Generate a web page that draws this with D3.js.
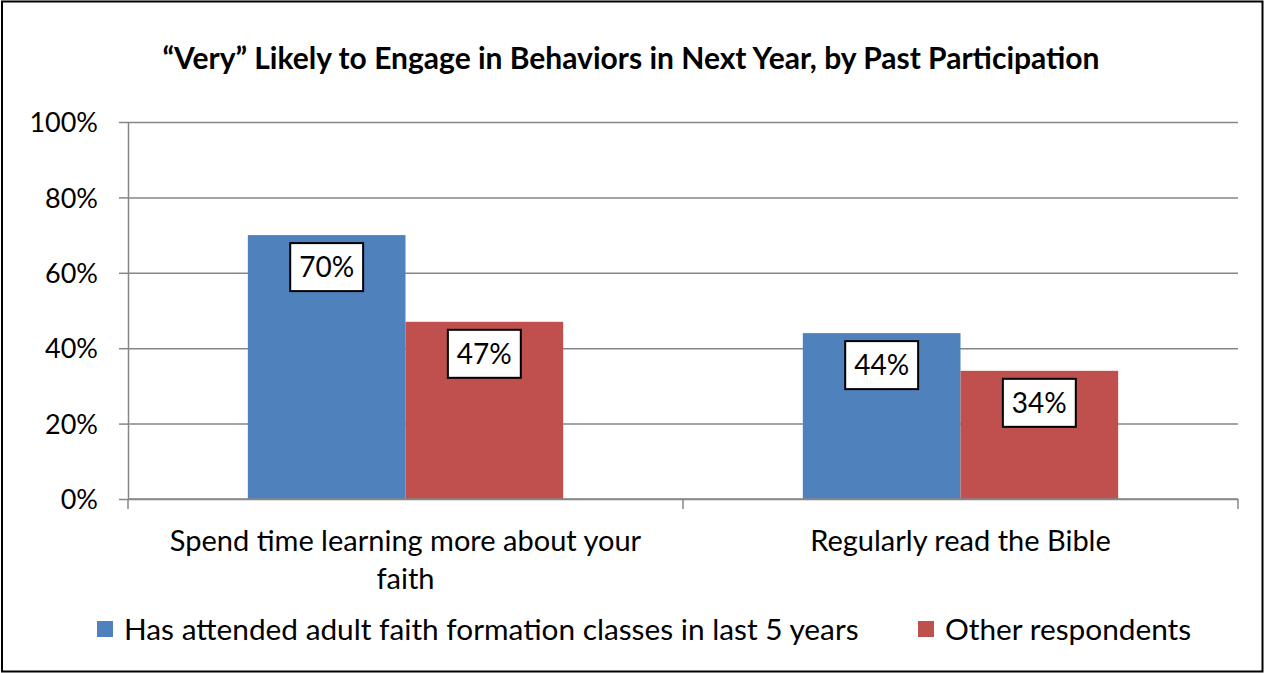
<!DOCTYPE html>
<html>
<head>
<meta charset="utf-8">
<script src="https://cdn.jsdelivr.net/npm/d3@7"></script>
<style>
  html, body { margin: 0; padding: 0; background: #fff; }
  svg { display: block; font-family: Lato, "Open Sans", sans-serif; }
</style>
</head>
<body>
<svg id="chart" width="1264" height="673"></svg>
<script>
// chart values
var categories = ["Spend time learning more about your faith", "Regularly read the Bible"];
var seriesNames = ["Has attended adult faith formation classes in last 5 years", "Other respondents"];
var attendedValues = [70, 44];
var otherValues = [47, 34];
var yTicks = [0, 20, 40, 60, 80, 100];
var colors = ["#4F81BD", "#C0504D"];

var svg = d3.select("#chart");
var W = 1264, H = 673;

// outer frame
svg.append("rect")
  .attr("x", 2).attr("y", 1.5)
  .attr("width", W - 3.5).attr("height", H - 3)
  .attr("fill", "#fff")
  .attr("stroke", "#000")
  .attr("stroke-width", 2);

// title
svg.append("text")
  .attr("x", 631)
  .attr("y", 69)
  .attr("text-anchor", "middle")
  .attr("font-size", 30)
  .attr("font-weight", "bold")
  .text("\u201CVery\u201D Likely to Engage in Behaviors in Next Year, by Past Participation");

var margin = { left: 128, right: 1238, top: 122, bottom: 499 };

var x = d3.scaleBand()
  .domain(categories)
  .range([margin.left, margin.right])
  .paddingInner(0)
  .paddingOuter(0);

var xInner = d3.scaleBand()
  .domain([0, 1])
  .range([0, x.bandwidth()])
  .paddingOuter(0.76)
  .paddingInner(0);

var y = d3.scaleLinear()
  .domain([0, 100])
  .range([margin.bottom, margin.top]);

// gridlines
svg.append("g")
  .attr("transform", "translate(" + margin.left + ",0)")
  .call(d3.axisLeft(y).tickValues(yTicks).tickSize(-(margin.right - margin.left)).tickFormat(""))
  .call(function(g) {
    g.select(".domain").remove();
    g.selectAll("line").attr("stroke", "#868686").attr("stroke-width", 1.5);
  });

// y axis
svg.append("g")
  .attr("transform", "translate(" + margin.left + ",0)")
  .call(d3.axisLeft(y).tickValues(yTicks).tickSize(9).tickSizeOuter(0).tickPadding(21)
    .tickFormat(function(d) { return d + "%"; }))
  .call(function(g) {
    g.select(".domain").attr("stroke", "#868686").attr("stroke-width", 1.5);
    g.selectAll("line").attr("stroke", "#868686").attr("stroke-width", 1.5);
    g.selectAll("text").attr("font-size", 27).attr("fill", "#000")
      .attr("font-family", "Lato, sans-serif").attr("dy", "0.36em");
  });

// bars
var data = categories.map(function(c, i) {
  return { cat: c, vals: [attendedValues[i], otherValues[i]] };
});

var groups = svg.append("g").selectAll("g")
  .data(data)
  .enter().append("g")
  .attr("transform", function(d) { return "translate(" + x(d.cat) + ",0)"; });

groups.selectAll("rect")
  .data(function(d) { return d.vals; })
  .enter().append("rect")
  .attr("x", function(d, i) { return xInner(i); })
  .attr("y", function(d) { return y(d); })
  .attr("width", xInner.bandwidth())
  .attr("height", function(d) { return y(0) - y(d); })
  .attr("fill", function(d, i) { return colors[i]; });

// x axis line and boundary ticks
var xAxis = svg.append("g");
xAxis.append("line")
  .attr("x1", margin.left).attr("x2", margin.right)
  .attr("y1", y(0)).attr("y2", y(0))
  .attr("stroke", "#868686").attr("stroke-width", 1.5);
var bounds = categories.map(function(c) { return x(c); }).concat([x.range()[1]]);
xAxis.selectAll(".tk")
  .data(bounds)
  .enter().append("line")
  .attr("x1", function(d) { return d; }).attr("x2", function(d) { return d; })
  .attr("y1", y(0)).attr("y2", y(0) + 10)
  .attr("stroke", "#868686").attr("stroke-width", 1.5);

// category labels (wrapped)
function wrapLines(text, maxW, size) {
  var probe = svg.append("text").attr("font-size", size);
  var words = text.split(" "), lines = [], line = [];
  words.forEach(function(w) {
    line.push(w);
    probe.text(line.join(" "));
    if (probe.node().getComputedTextLength() > maxW && line.length > 1) {
      line.pop();
      lines.push(line.join(" "));
      line = [w];
    }
  });
  lines.push(line.join(" "));
  probe.remove();
  return lines;
}

categories.forEach(function(c) {
  var lines = wrapLines(c, 510, 29);
  var t = svg.append("text")
    .attr("text-anchor", "middle")
    .attr("font-size", 29)
    .attr("x", x(c) + x.bandwidth() / 2)
    .attr("y", 551);
  lines.forEach(function(l, i) {
    t.append("tspan")
      .attr("x", x(c) + x.bandwidth() / 2)
      .attr("dy", i === 0 ? 0 : 38)
      .text(l);
  });
});

// data labels
groups.each(function(d) {
  var g = d3.select(this);
  d.vals.forEach(function(v, i) {
    var cx = xInner(i) + xInner.bandwidth() / 2;
    var cy = y(v) + 32;
    var lbl = g.append("g");
    var rect = lbl.append("rect");
    var txt = lbl.append("text")
      .attr("x", cx).attr("y", cy)
      .attr("text-anchor", "middle")
      .attr("dy", "0.36em")
      .attr("font-size", 28)
      .text(v + "%");
    var tw = txt.node().getComputedTextLength();
    var bw = tw + 18, bh = 48;
    rect.attr("x", cx - bw / 2).attr("y", cy - bh / 2)
      .attr("width", bw).attr("height", bh)
      .attr("fill", "#fff").attr("stroke", "#000").attr("stroke-width", 2);
  });
});

// legend
var legendItems = [
  { name: seriesNames[0], color: colors[0], x: 97 },
  { name: seriesNames[1], color: colors[1], x: 918 }
];
var legend = svg.append("g").selectAll("g")
  .data(legendItems)
  .enter().append("g")
  .attr("transform", function(d) { return "translate(" + d.x + ",0)"; });
legend.append("rect")
  .attr("x", 0).attr("y", 621)
  .attr("width", 16).attr("height", 16)
  .attr("fill", function(d) { return d.color; });
legend.append("text")
  .attr("x", 27).attr("y", 640)
  .attr("font-size", 29.8)
  .text(function(d) { return d.name; });
</script>
</body>
</html>
